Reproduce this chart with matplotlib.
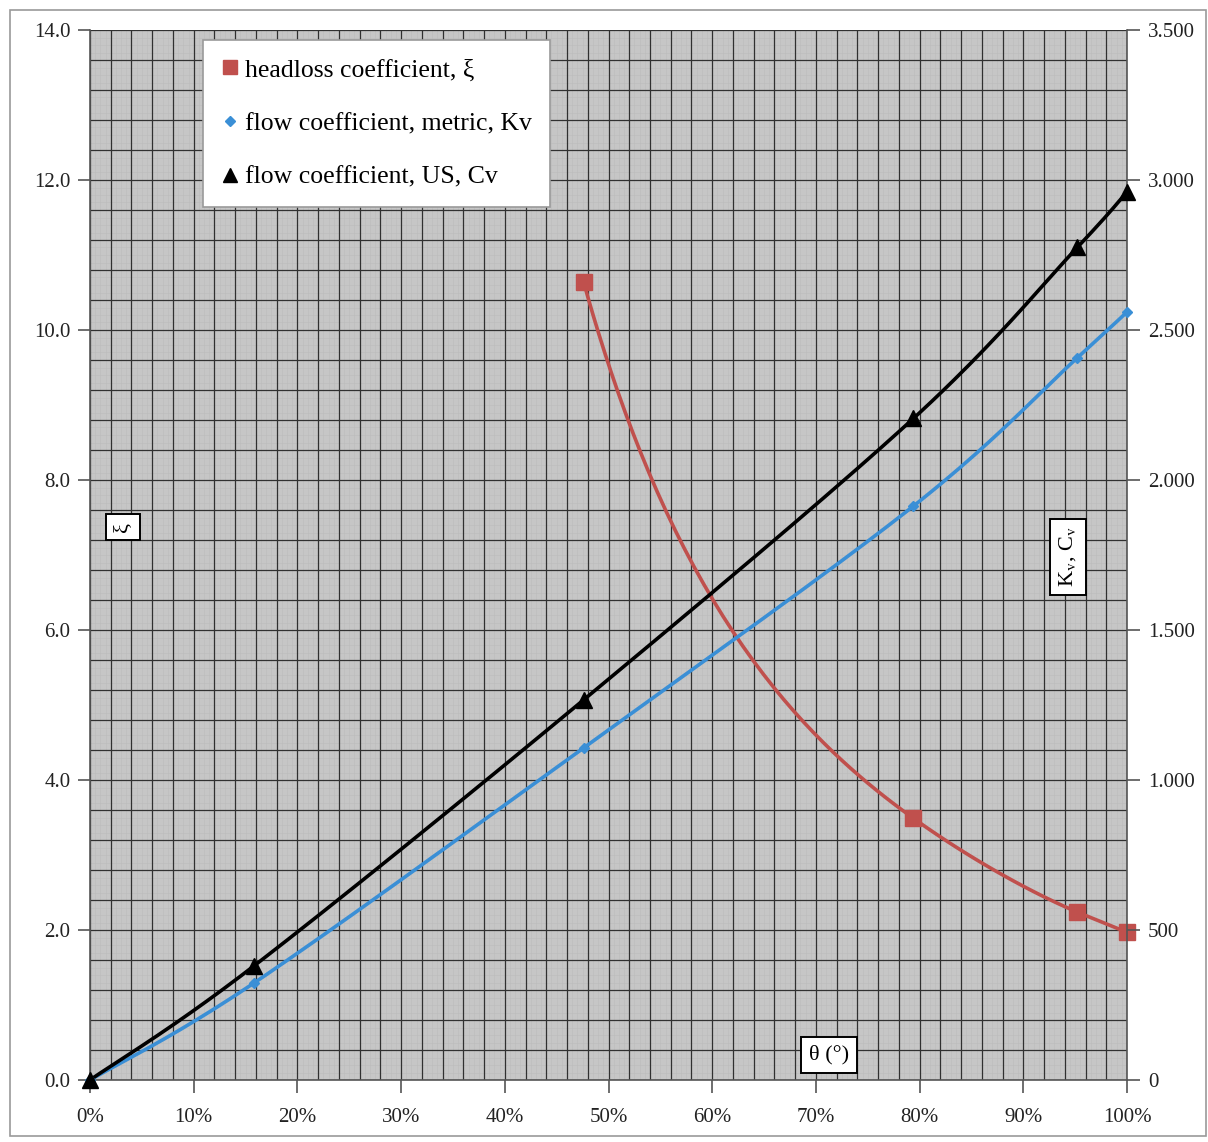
import numpy as np
import matplotlib
matplotlib.use('Agg')
import matplotlib.pyplot as plt
from matplotlib.lines import Line2D
from matplotlib.patches import Rectangle
from matplotlib.ticker import FuncFormatter, MultipleLocator

# valve opening (fraction of full travel)
opening = [0.0, 0.158, 0.476, 0.794, 0.952, 1.0]
kv_metric = [0, 323, 1107, 1913, 2407, 2560]
cv_us = [0, 380, 1267, 2205, 2775, 2960]

# headloss is only defined from half open upwards
xi_opening = [0.476, 0.794, 0.952, 1.0]
xi_values = [10.64, 3.49, 2.24, 1.97]

RED = '#c0504d'
BLUE = '#3a8fd6'
GRID_BG = '#c6c6c6'


def smooth(xs, ys, steps=40):
    # bezier smoothing of a polyline, same idea as spreadsheet "smoothed line"
    p = np.column_stack([xs, ys]).astype(float)
    n = len(p)
    out = []
    for i in range(n - 1):
        p_prev = p[max(i - 1, 0)]
        p_next = p[min(i + 2, n - 1)]
        c1 = p[i] + (p[i + 1] - p_prev) / 6
        c2 = p[i + 1] - (p_next - p[i]) / 6
        t = np.linspace(0, 1, steps)[:, None]
        seg = ((1 - t) ** 3 * p[i] + 3 * (1 - t) ** 2 * t * c1
               + 3 * (1 - t) * t ** 2 * c2 + t ** 3 * p[i + 1])
        out.append(seg if i == 0 else seg[1:])
    out = np.vstack(out)
    return out[:, 0], out[:, 1]


plt.rcParams['font.family'] = ['Liberation Serif', 'DejaVu Serif']
plt.rcParams['mathtext.fontset'] = 'stix'

fig = plt.figure(figsize=(12.08, 11.42), dpi=100)
fig.patches.append(Rectangle((10 / 1208, 1 - 1136 / 1142), 1196 / 1208, 1126 / 1142,
                             transform=fig.transFigure, fill=False,
                             edgecolor='#9a9a9a', lw=1.2))

ax = fig.add_axes([90 / 1208, 1 - 1080 / 1142, 1037 / 1208, 1050 / 1142])
ax.set_facecolor(GRID_BG)
ax.set_xlim(0, 1)
ax.set_ylim(0, 14)

# faint paper texture under the main grid
for v in np.arange(0, 1.0001, 0.005):
    ax.axvline(v, color='#bcbcbc', lw=0.4, zorder=0.5)
for v in np.arange(0, 14.0001, 0.1):
    ax.axhline(v, color='#bcbcbc', lw=0.4, zorder=0.5)

ax.xaxis.set_major_locator(MultipleLocator(0.1))
ax.xaxis.set_minor_locator(MultipleLocator(0.02))
ax.yaxis.set_major_locator(MultipleLocator(2))
ax.yaxis.set_minor_locator(MultipleLocator(0.4))
ax.grid(True, which='both', color='#303030', lw=0.9, zorder=1)
ax.set_axisbelow(True)
ax.xaxis.set_major_formatter(FuncFormatter(lambda v, _: f'{v * 100:.0f}%'))
ax.yaxis.set_major_formatter(FuncFormatter(lambda v, _: f'{v:.1f}'))
ax.tick_params(which='major', direction='out', length=9, width=1.2,
               color='#555555', labelsize=15, labelcolor='#222222', pad=5)
ax.tick_params(which='minor', length=0)
ax.tick_params(axis='x', pad=11)
for side in ['top', 'right']:
    ax.spines[side].set_visible(False)
for side in ['left', 'bottom']:
    ax.spines[side].set_color('#555555')
    ax.spines[side].set_linewidth(1.2)

# smoothed in 1/sqrt(xi) so the curve keeps its hyperbolic shape
rx, ry = smooth(xi_opening, np.array(xi_values) ** -0.5)
ax.plot(rx, ry ** -2, color=RED, lw=2.6, zorder=3)
ax.plot(xi_opening, xi_values, 's', color=RED, ms=12, zorder=4, clip_on=False)

ax2 = ax.twinx()
ax2.set_ylim(0, 3500)
ax2.yaxis.set_major_locator(MultipleLocator(500))
ax2.yaxis.set_major_formatter(
    FuncFormatter(lambda v, _: f'{v:,.0f}'.replace(',', '.')))
ax2.tick_params(direction='out', length=9, width=1.2, color='#555555',
                labelsize=15, labelcolor='#222222', pad=6)
for side in ['top', 'left', 'bottom']:
    ax2.spines[side].set_visible(False)
ax2.spines['right'].set_color('#555555')
ax2.spines['right'].set_linewidth(1.2)

bx, by = smooth(opening, kv_metric)
ax2.plot(bx, by, color=BLUE, lw=2.6, zorder=3)
ax2.plot(opening, kv_metric, 'D', color=BLUE, ms=5, zorder=4, clip_on=False)
kx, ky = smooth(opening, cv_us)
ax2.plot(kx, ky, color='black', lw=2.6, zorder=3)
ax2.plot(opening, cv_us, '^', color='black', ms=12, zorder=4, clip_on=False)

handles = [
    Line2D([], [], ls='none', marker='s', color=RED, ms=10),
    Line2D([], [], ls='none', marker='D', color=BLUE, ms=5),
    Line2D([], [], ls='none', marker='^', color='black', ms=10),
]
labels = ['headloss coefficient, ξ', 'flow coefficient, metric, Kv',
          'flow coefficient, US, Cv']
leg = ax2.legend(handles, labels, loc='upper left',
                 bbox_to_anchor=(113 / 1037, 1040 / 1050), fontsize=18.5,
                 frameon=True, fancybox=False, edgecolor='#9a9a9a',
                 framealpha=1, labelspacing=1.19, handlelength=0.7,
                 handletextpad=0.2, borderpad=0.72, borderaxespad=0)
leg.get_frame().set_linewidth(1.2)
leg.set_zorder(10)

box = dict(boxstyle='square,pad=0.35', fc='white', ec='black', lw=1.4)
ax2.text(33 / 1037, 553 / 1050, 'ξ', rotation=90, transform=ax2.transAxes,
         ha='center', va='center', fontsize=16, bbox=box, zorder=10)
ax2.text(978 / 1037, 523 / 1050, r'K$_\mathrm{v}$, C$_\mathrm{v}$', rotation=90,
         transform=ax2.transAxes, ha='center', va='center', fontsize=16,
         bbox=box, zorder=10)
ax2.text(739 / 1037, 25 / 1050, 'θ (°)', transform=ax2.transAxes,
         ha='center', va='center', fontsize=16, bbox=box, zorder=10)

fig.savefig('out.png', dpi=100)
